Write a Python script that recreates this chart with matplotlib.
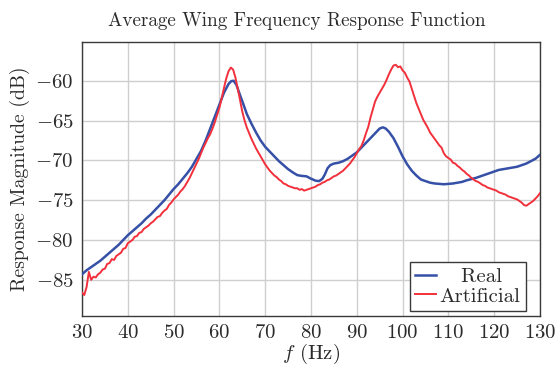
import matplotlib
matplotlib.use("Agg")
import matplotlib.pyplot as plt

plt.rcParams['font.family'] = 'serif'
plt.rcParams['font.serif'] = ['cmr10']
plt.rcParams['mathtext.fontset'] = 'cm'
plt.rcParams['axes.formatter.use_mathtext'] = True
plt.rcParams['axes.unicode_minus'] = True

# ---- data ----
real_f = [30, 31, 32, 33, 34, 35, 36, 37, 38, 39, 40, 41, 42, 43, 44, 45, 46, 47, 48, 49,
          50, 51, 52, 53, 54, 55, 56, 57, 58, 59, 60, 61, 62, 62.6, 63.1, 63.7, 64.5, 65.2,
          66, 67, 68, 69, 70, 71, 72, 73, 74, 75, 76, 77, 78, 79, 80, 81, 81.8, 82.5, 83,
          83.6, 84.2, 85, 86, 87, 88, 89, 90, 91, 92, 93, 94, 95, 95.7, 96.3, 97, 98, 99,
          100, 101, 102, 103, 104, 105, 106, 107, 108, 109, 110, 111, 112, 113, 114, 115,
          116, 117, 118, 119, 120, 121, 122, 123, 124, 125, 126, 127, 128, 129, 130]
real_db = [-84.3, -83.8, -83.4, -83.0, -82.6, -82.1, -81.6, -81.1, -80.6, -80.0, -79.4,
           -78.9, -78.4, -77.9, -77.3, -76.8, -76.2, -75.6, -75.0, -74.3, -73.6, -73.0,
           -72.3, -71.6, -70.8, -69.8, -68.8, -67.5, -66.0, -64.5, -63.0, -61.5, -60.4,
           -60.05, -60.0, -60.5, -61.8, -62.9, -64.2, -65.4, -66.5, -67.5, -68.3, -68.9,
           -69.5, -70.1, -70.6, -71.1, -71.5, -71.85, -71.95, -72.0, -72.3, -72.55, -72.6,
           -72.3, -71.8, -71.0, -70.6, -70.4, -70.3, -70.1, -69.8, -69.4, -69.0, -68.4,
           -67.8, -67.2, -66.6, -66.0, -65.85, -66.0, -66.4, -67.2, -68.3, -69.5, -70.5,
           -71.3, -71.9, -72.4, -72.6, -72.8, -72.9, -72.95, -73.0, -72.95, -72.9, -72.8,
           -72.7, -72.5, -72.35, -72.2, -72.0, -71.8, -71.6, -71.4, -71.2, -71.1, -71.0,
           -70.9, -70.8, -70.6, -70.4, -70.1, -69.8, -69.3]

art_f = [30 + 0.5 * i for i in range(201)]
art_db = [
    -86.6, -86.9, -85.9, -84.0, -85.0, -84.6, -84.7, -84.3, -84.1, -83.7,   # 30 - 34.5
    -83.6, -83.0, -82.9, -82.4, -82.5, -82.0, -81.8, -81.6, -81.1, -81.0,   # 35 - 39.5
    -80.4, -80.2, -80.0, -79.6, -79.5, -79.1, -79.0, -78.6, -78.4, -78.2,   # 40 - 44.5
    -77.9, -77.7, -77.4, -77.1, -77.0, -76.6, -76.3, -76.1, -75.6, -75.3,   # 45 - 49.5
    -74.9, -74.6, -74.3, -73.9, -73.6, -73.2, -72.7, -72.2, -71.6, -71.0,   # 50 - 54.5
    -70.4, -69.8, -69.1, -68.4, -67.8, -67.2, -66.7, -66.0, -65.2, -64.3,   # 55 - 59.5
    -63.4, -62.2, -60.9, -59.7, -58.8, -58.35, -58.6, -59.6, -61.0, -62.4,  # 60 - 64.5
    -63.9, -65.0, -65.9, -66.6, -67.3, -67.9, -68.5, -69.0, -69.5, -70.0,   # 65 - 69.5
    -70.5, -70.9, -71.3, -71.6, -71.9, -72.1, -72.4, -72.6, -72.9, -73.0,   # 70 - 74.5
    -73.2, -73.3, -73.4, -73.5, -73.5, -73.7, -73.6, -73.8, -73.7, -73.6,   # 75 - 79.5
    -73.5, -73.4, -73.3, -73.1, -73.0, -72.8, -72.7, -72.5, -72.4, -72.2,   # 80 - 84.5
    -72.0, -71.9, -71.7, -71.5, -71.3, -71.0, -70.7, -70.4, -70.0, -69.6,   # 85 - 89.5
    -69.1, -68.6, -68.2, -67.5, -66.6, -65.8, -64.6, -63.6, -62.6, -62.0,   # 90 - 94.5
    -61.5, -61.0, -60.5, -59.9, -59.2, -58.6, -58.1, -58.0, -58.3, -58.2,   # 95 - 99.5
    -58.7, -59.0, -59.6, -60.1, -61.0, -61.9, -62.8, -63.5, -64.2, -64.9,   # 100 - 104.5
    -65.4, -65.9, -66.5, -66.9, -67.3, -67.7, -68.1, -68.4, -69.1, -69.5,   # 105 - 109.5
    -69.7, -69.9, -70.3, -70.4, -70.7, -70.9, -71.2, -71.4, -71.7, -71.9,   # 110 - 114.5
    -72.2, -72.4, -72.6, -72.7, -72.9, -73.1, -73.2, -73.4, -73.5, -73.6,   # 115 - 119.5
    -73.7, -73.8, -74.0, -74.1, -74.2, -74.3, -74.5, -74.6, -74.7, -74.8,   # 120 - 124.5
    -74.9, -75.1, -75.3, -75.6, -75.7, -75.5, -75.3, -75.1, -74.8, -74.5,   # 125 - 129.5
    -74.1,                                                                  # 130
]

x_ticks = [30, 40, 50, 60, 70, 80, 90, 100, 110, 120, 130]
y_ticks = [-85, -80, -75, -70, -65, -60]
series_labels = ["Real", "Artificial"]

# ---- plot ----
text_color = '#2b2b2b'
fig = plt.figure(figsize=(5.55, 3.67), dpi=100)
ax = fig.add_axes([82 / 555, (367 - 315.7) / 367, (540 - 82) / 555, (315.7 - 41.7) / 367])

ax.plot(real_f, real_db, color='#3550a6', lw=1.8, label=series_labels[0], zorder=3)
ax.plot(art_f, art_db, color='#f2303c', lw=1.4, label=series_labels[1], zorder=3)

ax.set_xlim(30, 130)
ax.set_ylim(-89.5, -55.1)
ax.set_xticks(x_ticks)
ax.set_yticks(y_ticks)
ax.grid(True, color='#cfcfcf', lw=1.0, zorder=0)
ax.set_axisbelow(True)
ax.tick_params(direction='in', length=0, labelsize=15, colors=text_color, pad=6)
for s in ax.spines.values():
    s.set_color('#3a3a3a')
    s.set_linewidth(1.0)

ax.set_title('Average Wing Frequency Response Function', fontsize=13.8, color=text_color,
             pad=11, x=0.468)
ax.set_xlabel(r'$f$ (Hz)', fontsize=15, color=text_color, labelpad=0)
ax.set_ylabel('Response Magnitude (dB)', fontsize=14.2, color=text_color, labelpad=4)

# centre the shorter legend entry within the legend column, as in the reference
legend_labels = ['   ' + series_labels[0], series_labels[1]]
handles = ax.get_lines()
leg = ax.legend(handles, legend_labels, loc='lower right', bbox_to_anchor=(0.969, 0.018),
                borderaxespad=0, fancybox=False, framealpha=1, edgecolor='#3a3a3a',
                fontsize=15, handlelength=1.0, handletextpad=0.2, borderpad=0.25,
                labelspacing=0.05)
leg.get_frame().set_linewidth(1.0)
for t in leg.get_texts():
    t.set_color(text_color)

fig.savefig('out.png', dpi=100)
